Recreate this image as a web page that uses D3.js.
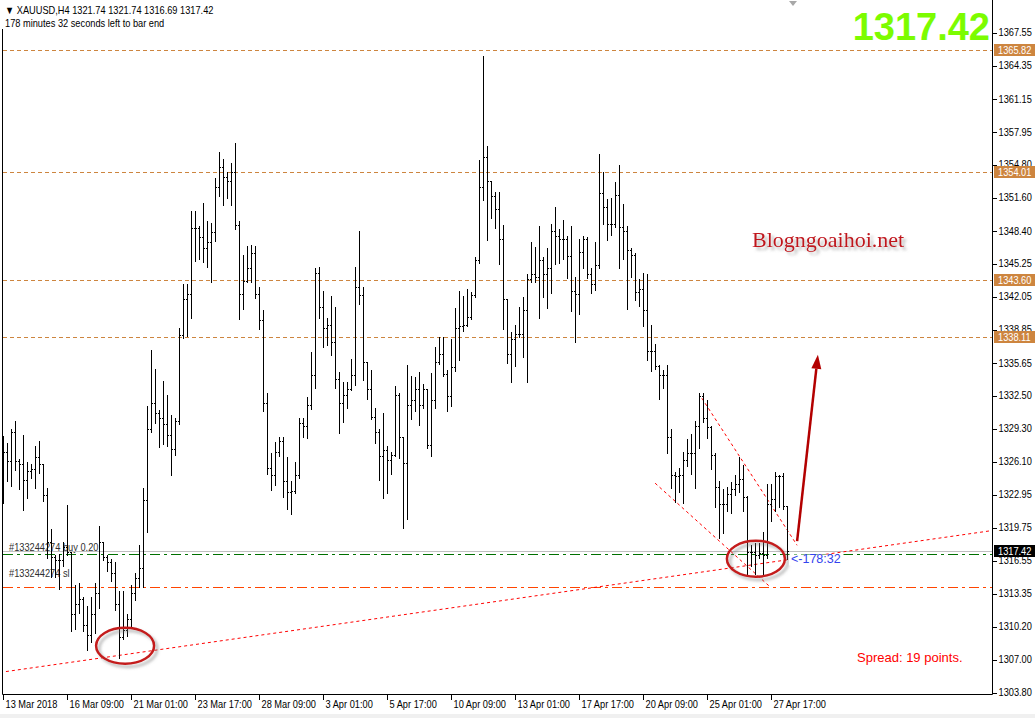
<!DOCTYPE html>
<html>
<head>
<meta charset="utf-8">
<title>XAUUSD,H4</title>
<script src="https://d3js.org/d3.v7.min.js"></script>
<style>
  body { margin: 0; background: #fff; }
  svg { display: block; }
</style>
</head>
<body>
<svg id="chart" width="1035" height="718"></svg>
<script>
// XAUUSD H4 bars, 13 Mar - 30 Apr 2018
var opens = [
  1324.3,1327.0,1326.1,1328.9,1326.1,1325.8,1324.3,1325.1,1325.3,1326.5,1325.8,1322.8,1318.3,1316.8,1316.5,1316.5,
  1317.8,1317.3,1311.3,1312.3,1312.8,1310.3,1309.3,1311.3,1313.3,1318.3,1316.8,1316.3,1315.3,1312.3,1309.1,1309.8,
  1310.8,1313.3,1314.8,1315.8,1322.3,1329.2,1331.7,1330.7,1330.2,1329.7,1328.6,1327.3,1330.0,1338.3,1341.7,1342.2,
  1348.6,1348.6,1347.7,1346.7,1347.2,1348.2,1352.6,1354.5,1353.5,1353.1,1354.0,1348.9,1342.2,1343.5,1344.7,1346.2,
  1342.2,1339.7,1331.7,1325.4,1324.7,1327.0,1328.0,1324.2,1323.1,1323.2,1324.7,1329.8,1329.5,1331.5,1334.4,1344.3,
  1341.0,1338.9,1339.2,1337.6,1334.0,1331.7,1332.5,1333.0,1334.4,1342.9,1342.1,1335.7,1333.0,1330.3,1328.9,1326.6,
  1327.2,1326.2,1326.7,1332.5,1328.4,1325.9,1331.5,1332.0,1333.0,1331.5,1333.0,1327.6,1332.0,1335.7,1336.4,1334.5,
  1332.4,1335.2,1338.9,1339.1,1339.2,1340.0,1342.1,1345.5,1352.6,1355.5,1353.1,1351.7,1350.4,1347.5,1341.7,1336.4,
  1337.9,1338.4,1338.4,1340.7,1343.7,1344.2,1343.9,1345.5,1344.2,1344.7,1348.3,1347.8,1347.5,1347.5,1345.9,1342.5,
  1342.2,1346.3,1347.5,1344.2,1343.2,1345.0,1352.0,1350.6,1349.0,1349.0,1351.8,1348.7,1348.3,1346.5,1346.0,1342.4,
  1342.7,1340.7,1336.7,1336.7,1335.3,1334.4,1334.4,1328.4,1324.7,1324.6,1324.7,1326.2,1326.9,1326.9,1329.5,1332.4,
  1330.2,1329.4,1326.7,1323.6,1321.9,1321.9,1322.9,1323.4,1323.9,1324.4,1322.6,1317.3,1317.3,1317.0,1317.2,1317.0,
  1321.9,1322.4,1324.6,1324.6,1321.74
];
var highs = [
  1328.5,1327.8,1329.2,1330.0,1326.3,1328.6,1326.0,1325.8,1327.5,1328.0,1325.8,1323.5,1319.5,1317.0,1317.1,1318.3,
  1321.8,1317.3,1314.1,1314.3,1313.0,1312.1,1313.0,1314.3,1319.8,1318.3,1317.0,1316.6,1316.3,1313.5,1313.5,1311.3,
  1314.1,1315.3,1318.0,1323.5,1331.4,1336.8,1335.0,1331.0,1333.8,1332.5,1330.5,1330.2,1338.9,1343.2,1343.2,1350.2,
  1350.2,1348.8,1351.0,1349.3,1349.1,1353.4,1355.9,1355.3,1354.0,1354.9,1356.8,1349.3,1346.0,1346.9,1347.0,1346.9,
  1342.9,1340.7,1332.7,1326.9,1327.9,1328.4,1328.4,1326.5,1324.2,1326.0,1330.2,1330.2,1332.3,1336.6,1344.7,1344.8,
  1342.5,1339.9,1342.0,1341.0,1334.7,1333.7,1333.7,1335.9,1344.8,1348.3,1342.9,1335.7,1334.9,1331.2,1329.2,1330.7,
  1327.5,1327.0,1333.3,1332.7,1328.4,1335.4,1334.3,1334.2,1334.7,1333.5,1333.0,1334.6,1337.1,1338.1,1338.1,1334.9,
  1337.9,1340.9,1342.5,1342.0,1342.7,1342.4,1345.8,1355.2,1365.2,1356.5,1353.1,1352.1,1352.1,1348.9,1341.7,1338.6,
  1339.2,1341.0,1341.9,1344.2,1347.2,1346.8,1348.8,1345.8,1346.7,1349.0,1350.6,1348.5,1349.4,1347.8,1348.8,1343.9,
  1347.5,1347.8,1347.7,1344.7,1347.2,1355.7,1354.0,1351.4,1351.5,1353.0,1354.7,1350.9,1348.8,1346.7,1346.2,1343.7,
  1344.3,1344.2,1339.2,1337.4,1335.4,1334.9,1335.4,1329.2,1325.0,1325.4,1327.0,1328.2,1328.7,1330.0,1332.7,1332.7,
  1332.0,1329.5,1326.9,1324.2,1323.4,1323.6,1324.1,1324.7,1326.5,1325.7,1322.7,1318.0,1318.2,1318.2,1319.2,1323.9,
  1323.9,1325.0,1324.7,1324.9,1321.74
];
var lows = [
  1322.1,1324.3,1323.8,1325.3,1323.5,1321.5,1322.6,1324.5,1323.6,1325.0,1322.3,1316.8,1315.0,1315.0,1313.8,1316.0,
  1317.1,1309.8,1310.0,1311.5,1309.8,1307.9,1308.7,1309.6,1312.0,1316.6,1315.6,1314.6,1311.8,1307.2,1309.0,1309.3,
  1310.1,1312.8,1314.0,1314.0,1319.3,1329.0,1329.9,1327.5,1327.8,1327.6,1324.8,1326.8,1329.8,1338.1,1338.3,1340.0,
  1345.5,1345.7,1345.4,1344.9,1343.5,1347.4,1351.8,1350.9,1351.6,1350.9,1348.6,1339.9,1340.9,1343.5,1343.5,1341.9,
  1338.9,1331.0,1324.9,1323.4,1323.9,1326.7,1322.7,1321.6,1321.1,1323.1,1324.5,1328.5,1328.4,1331.2,1333.2,1340.0,
  1337.2,1337.4,1336.4,1333.2,1328.9,1330.0,1331.3,1333.0,1333.5,1341.4,1334.0,1332.2,1330.2,1327.9,1324.4,1322.6,
  1323.1,1324.9,1326.7,1326.5,1319.7,1320.6,1330.2,1331.0,1329.7,1331.3,1327.4,1326.7,1331.3,1335.6,1334.4,1331.0,
  1331.5,1334.9,1335.9,1338.7,1339.2,1339.9,1342.0,1345.3,1351.4,1347.5,1349.7,1348.7,1345.2,1338.9,1335.7,1333.8,
  1335.4,1338.2,1336.2,1333.8,1343.5,1343.5,1340.0,1342.0,1341.0,1342.4,1345.2,1345.3,1345.7,1343.9,1340.7,1337.7,
  1340.4,1344.8,1343.9,1342.4,1342.7,1344.8,1349.1,1347.5,1348.0,1348.8,1344.8,1345.7,1340.9,1344.0,1341.7,1341.2,
  1339.2,1335.9,1334.9,1335.1,1332.2,1333.2,1327.0,1323.6,1322.2,1323.2,1322.1,1325.7,1324.9,1323.6,1327.4,1330.0,
  1328.4,1325.4,1321.7,1318.8,1319.2,1321.4,1321.2,1322.9,1323.2,1321.4,1315.1,1316.0,1315.3,1316.8,1315.2,1316.8,
  1320.4,1321.4,1321.7,1321.6,1316.69
];
var closes = [
  1327.0,1326.1,1328.9,1326.1,1325.8,1324.3,1325.1,1325.3,1326.5,1325.8,1322.8,1318.3,1316.8,1316.5,1316.5,1317.8,
  1317.3,1311.3,1312.3,1312.8,1310.3,1309.3,1311.3,1313.3,1318.3,1316.8,1316.3,1315.3,1312.3,1309.1,1309.8,1310.8,
  1313.3,1314.8,1315.8,1322.3,1329.2,1331.7,1330.7,1330.2,1329.7,1328.6,1327.3,1330.0,1338.3,1341.7,1342.2,1348.6,
  1348.6,1347.7,1346.7,1347.2,1348.2,1352.6,1354.5,1353.5,1353.1,1354.0,1348.9,1342.2,1343.5,1344.7,1346.2,1342.2,
  1339.7,1331.7,1325.4,1324.7,1327.0,1328.0,1324.2,1323.1,1323.2,1324.7,1329.8,1329.5,1331.5,1334.4,1344.3,1341.0,
  1338.9,1339.2,1337.6,1334.0,1331.7,1332.5,1333.0,1334.4,1342.9,1342.1,1335.7,1333.0,1330.3,1328.9,1326.6,1327.2,
  1326.2,1326.7,1332.5,1328.4,1325.9,1331.5,1332.0,1333.0,1331.5,1333.0,1327.6,1332.0,1335.7,1336.4,1334.5,1332.4,
  1335.2,1338.9,1339.1,1339.2,1340.0,1342.1,1345.5,1352.6,1355.5,1353.1,1351.7,1350.4,1347.5,1341.7,1336.4,1337.9,
  1338.4,1338.4,1340.7,1343.7,1344.2,1343.9,1345.5,1344.2,1344.7,1348.3,1347.8,1347.5,1347.5,1345.9,1342.5,1342.2,
  1346.3,1347.5,1344.2,1343.2,1345.0,1352.0,1350.6,1349.0,1349.0,1351.8,1348.7,1348.3,1346.5,1346.0,1342.4,1342.7,
  1340.7,1336.7,1336.7,1335.3,1334.4,1334.4,1328.4,1324.7,1324.6,1324.7,1326.2,1326.9,1326.9,1329.5,1332.4,1330.2,
  1329.4,1326.7,1323.6,1321.9,1321.9,1322.9,1323.4,1323.9,1324.4,1322.6,1317.3,1317.3,1317.0,1317.2,1317.0,1321.9,
  1322.4,1324.6,1324.6,1321.7,1317.42
];

var timeLabels = ["13 Mar 2018", "16 Mar 09:00", "21 Mar 01:00", "23 Mar 17:00", "28 Mar 09:00", "3 Apr 01:00",
  "5 Apr 17:00", "10 Apr 09:00", "13 Apr 01:00", "17 Apr 17:00", "20 Apr 09:00", "25 Apr 01:00", "27 Apr 17:00"];
var labelBars = [0, 16, 32, 48, 64, 80, 96, 112, 128, 144, 160, 176, 192];
var priceTicks = [1367.55, 1364.35, 1361.15, 1357.95, 1354.80, 1351.60, 1348.40, 1345.25, 1342.05, 1338.85, 1335.65,
  1332.50, 1329.30, 1326.10, 1322.95, 1319.75, 1316.55, 1313.35, 1310.20, 1307.00, 1303.80];
var levels = [1365.82, 1354.01, 1343.60, 1338.11];
var bidPrice = 1317.42;
var orderOpen = 1317.2, orderSL = 1313.9;

// drawings: [bar index, price]
var trendLine = [[-0.875, 1305.72], [247.1, 1319.42]];
var channelTop = [[174.6, 1332.2], [198.4, 1318.0]];
var channelBottom = [[162.9, 1324.0], [191.6, 1314.0]];
var arrowPts = [[198.4, 1318.4], [203.6, 1336.4]];
var circles = [[30.4, 1308.3], [188.1, 1316.7]];

var W = 1035, H = 718;
var plotRight = 992.5, plotBottom = 694.5;
var SANS = "'Liberation Sans', Arial, sans-serif";

// squeeze Arial-like text to the narrow terminal font
function narrow(sel, k) {
  sel.each(function () {
    var len = this.getComputedTextLength();
    d3.select(this).attr("textLength", len * k).attr("lengthAdjust", "spacingAndGlyphs");
  });
}

var svg = d3.select("#chart").style("font-family", SANS);
svg.append("rect").attr("width", W).attr("height", H).attr("fill", "#fff");
svg.append("rect").attr("x", 0).attr("y", 714).attr("width", W).attr("height", 4).attr("fill", "#f0f0f0");

var defs = svg.append("defs");
var f = defs.append("filter").attr("id", "shadow").attr("x", "-20%").attr("y", "-30%").attr("width", "150%").attr("height", "180%");
f.append("feDropShadow").attr("dx", 3).attr("dy", 3).attr("stdDeviation", 1.6)
  .attr("flood-color", "#777").attr("flood-opacity", 0.55);
defs.append("clipPath").attr("id", "plot").append("rect")
  .attr("x", 3).attr("y", 0).attr("width", plotRight - 3).attr("height", plotBottom);

var x = d3.scaleLinear().domain([0, 196]).range([3.5, 787.5]);
var y = d3.scaleLinear().domain([1303.80, 1367.55]).range([692.3, 32.3]);
function py(p) { return Math.floor(y(p)) + 0.5; }

var plot = svg.append("g").attr("clip-path", "url(#plot)");

// horizontal levels
plot.selectAll(".lvl").data(levels).enter().append("line")
  .attr("x1", 3).attr("x2", plotRight).attr("y1", py).attr("y2", py)
  .attr("stroke", "#cd853f").attr("stroke-dasharray", "4,3").attr("shape-rendering", "crispEdges");

// order labels
plot.append("text").attr("x", 9).attr("y", py(orderOpen) - 3).attr("font-size", 11).attr("fill", "#303030")
  .text("#133244274 buy 0.20").call(narrow, 0.84);
plot.append("text").attr("x", 9).attr("y", py(orderSL) - 11).attr("font-size", 11).attr("fill", "#303030")
  .text("#133244274 sl").call(narrow, 0.84);

// bid, order, stop-loss lines
plot.append("line").attr("x1", 3).attr("x2", plotRight).attr("y1", py(bidPrice)).attr("y2", py(bidPrice))
  .attr("stroke", "#c0c0c0").attr("shape-rendering", "crispEdges");
plot.append("line").attr("x1", 3).attr("x2", plotRight).attr("y1", py(orderOpen) + 1).attr("y2", py(orderOpen) + 1)
  .attr("stroke", "#007000").attr("stroke-dasharray", "10,4,3,4").attr("shape-rendering", "crispEdges");
plot.append("line").attr("x1", 3).attr("x2", plotRight).attr("y1", py(orderSL)).attr("y2", py(orderSL))
  .attr("stroke", "#ff4500").attr("stroke-dasharray", "10,4,3,4").attr("shape-rendering", "crispEdges");

// red dotted trend lines
var line = d3.line().x(function (d) { return x(d[0]); }).y(function (d) { return y(d[1]); });
[trendLine, channelTop, channelBottom].forEach(function (pts) {
  plot.append("path").attr("d", line(pts)).attr("fill", "none")
    .attr("stroke", "#ff0000").attr("stroke-width", 1).attr("stroke-dasharray", "3,3");
});

// OHLC bars
var idx = d3.range(highs.length);
var bars = plot.append("g").attr("shape-rendering", "crispEdges").attr("stroke", "#000");
bars.selectAll(".hl").data(idx).enter().append("line")
  .attr("x1", x).attr("x2", x)
  .attr("y1", function (i) { return Math.floor(y(highs[i])); })
  .attr("y2", function (i) { return Math.ceil(y(lows[i])) + 1; });
bars.selectAll(".op").data(idx).enter().append("line")
  .attr("x1", function (i) { return x(i) - 1.5; }).attr("x2", function (i) { return x(i) - 0.5; })
  .attr("y1", function (i) { return py(opens[i]); }).attr("y2", function (i) { return py(opens[i]); });
bars.selectAll(".cl").data(idx).enter().append("line")
  .attr("x1", function (i) { return x(i) + 0.5; }).attr("x2", function (i) { return x(i) + 1.5; })
  .attr("y1", function (i) { return py(closes[i]); }).attr("y2", function (i) { return py(closes[i]); });

// ellipses
svg.selectAll(".ring").data(circles).enter().append("ellipse")
  .attr("cx", function (d) { return x(d[0]); }).attr("cy", function (d) { return y(d[1]); })
  .attr("rx", 29).attr("ry", 18)
  .attr("fill", "none").attr("stroke", "#c41a1a").attr("stroke-width", 2.5).attr("filter", "url(#shadow)");

// arrow
var ax1 = x(arrowPts[0][0]), ay1 = y(arrowPts[0][1]), ax2 = x(arrowPts[1][0]), ay2 = y(arrowPts[1][1]);
var ang = Math.atan2(ay2 - ay1, ax2 - ax1);
var headL = 14, headW = 5;
var bx = ax2 - headL * Math.cos(ang), by = ay2 - headL * Math.sin(ang);
svg.append("line").attr("x1", ax1).attr("y1", ay1).attr("x2", bx).attr("y2", by)
  .attr("stroke", "#b30000").attr("stroke-width", 2.5);
svg.append("path")
  .attr("d", "M" + ax2 + "," + ay2 +
    "L" + (bx + headW * Math.sin(ang)) + "," + (by - headW * Math.cos(ang)) +
    "L" + (bx - headW * Math.sin(ang)) + "," + (by + headW * Math.cos(ang)) + "Z")
  .attr("fill", "#b30000");

// countdown label next to the last bar
svg.append("rect").attr("x", 789).attr("y", py(bidPrice) + 3).attr("width", 55).attr("height", 11).attr("fill", "#fff");
svg.append("text").attr("x", 791).attr("y", py(bidPrice) + 11).attr("font-size", 12.5).attr("fill", "#3344ee")
  .text("<-178:32");

// texts
svg.append("text").attr("x", 752).attr("y", 247).attr("font-size", 22)
  .style("font-family", "'Liberation Serif', 'Times New Roman', serif")
  .attr("fill", "#c0141c").attr("filter", "url(#shadow)").text("Blogngoaihoi.net");
svg.append("text").attr("x", 857).attr("y", 662).attr("font-size", 13).attr("fill", "#ff0000")
  .text("Spread:  19 points.");
svg.append("text").attr("x", 990).attr("y", 40).attr("text-anchor", "end")
  .attr("font-weight", "bold").attr("font-size", 38).attr("fill", "#7cfc00").text("1317.42");

svg.append("text").attr("x", 5).attr("y", 14).attr("font-size", 11).attr("fill", "#000")
  .text("\u25BC XAUUSD,H4  1321.74 1321.74 1316.69 1317.42").call(narrow, 0.84);
svg.append("text").attr("x", 5).attr("y", 27).attr("font-size", 11).attr("fill", "#000")
  .text("178 minutes 32 seconds left to bar end").call(narrow, 0.84);

// chart shift marker
svg.append("path").attr("d", "M789,1L797,1L793,6Z").attr("fill", "#a8a8a8");

// frame
svg.append("line").attr("x1", 2.5).attr("x2", 2.5).attr("y1", 29).attr("y2", plotBottom).attr("stroke", "#000");
svg.append("line").attr("x1", 2.5).attr("x2", plotRight).attr("y1", plotBottom).attr("y2", plotBottom).attr("stroke", "#000");
svg.append("line").attr("x1", plotRight).attr("x2", plotRight).attr("y1", 0).attr("y2", plotBottom).attr("stroke", "#000");

// price axis
var yAxis = d3.axisRight(y).tickValues(priceTicks).tickSize(4).tickPadding(2).tickFormat(d3.format(".2f"));
var gy = svg.append("g").attr("transform", "translate(" + plotRight + ",0)").call(yAxis);
gy.select(".domain").remove();
gy.selectAll("line").attr("transform", "translate(0,0.5)").attr("shape-rendering", "crispEdges");
gy.attr("font-family", null);
gy.selectAll("text").attr("font-size", 11).attr("fill", "#000").call(narrow, 0.84);

// level tags on the axis
function tag(p, fill) {
  var g = svg.append("g").attr("transform", "translate(994," + Math.round(y(p)) + ")");
  g.append("rect").attr("x", 0).attr("y", -6).attr("width", 41).attr("height", 12).attr("fill", fill);
  g.append("text").attr("x", 4).attr("y", 4).attr("font-size", 11).attr("fill", "#fff")
    .text(p.toFixed(2)).call(narrow, 0.84);
}
levels.forEach(function (p) { tag(p, "#cd853f"); });
tag(bidPrice, "#000");

// time axis
var gx = svg.append("g");
gx.selectAll("line").data(labelBars).enter().append("line")
  .attr("x1", x).attr("x2", x).attr("y1", plotBottom).attr("y2", plotBottom + 5)
  .attr("stroke", "#000").attr("shape-rendering", "crispEdges");
gx.selectAll("text").data(labelBars).enter().append("text")
  .attr("x", function (d) { return x(d) + 2; }).attr("y", 708).attr("font-size", 11).attr("fill", "#000")
  .text(function (d, i) { return timeLabels[i]; }).call(narrow, 0.84);
</script>
</body>
</html>
